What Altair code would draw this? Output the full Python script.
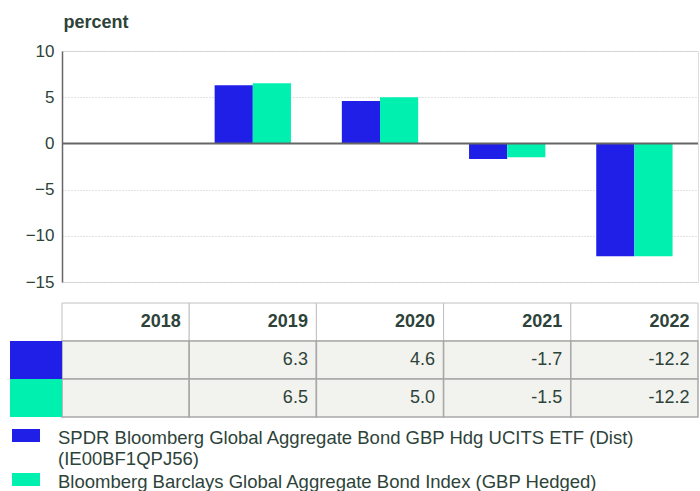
import altair as alt
import pandas as pd

# ---------------- data ----------------
years = ["2018", "2019", "2020", "2021", "2022"]
series_keys = ["SPDR", "Index"]
series_labels = [
    "SPDR Bloomberg Global Aggregate Bond GBP Hdg UCITS ETF (Dist)\n(IE00BF1QPJ56)",
    "Bloomberg Barclays Global Aggregate Bond Index (GBP Hedged)",
]
spdr_values = [None, 6.3, 4.6, -1.7, -12.2]
index_values = [None, 6.5, 5.0, -1.5, -12.2]
series_colors = ["#1F1FE8", "#00F0B0"]
y_ticks = [-15, -10, -5, 0, 5, 10]

# ---------------- tables built from the arrays ----------------
bar_rows = []
for key, vals in zip(series_keys, [spdr_values, index_values]):
    for yr, v in zip(years, vals):
        if v is not None:
            bar_rows.append({"year": yr, "series": key, "value": v})
bars_df = pd.DataFrame(bar_rows)

cell_rows = []
for yr in years:
    cell_rows.append({"year": yr, "row": "header", "kind": "header", "label": yr})
for key, vals in zip(series_keys, [spdr_values, index_values]):
    for yr, v in zip(years, vals):
        cell_rows.append({"year": yr, "row": key, "kind": "data",
                          "label": "" if v is None else f"{v:.1f}"})
cells_df = pd.DataFrame(cell_rows)

legend_df = pd.DataFrame({"series": series_keys, "label": series_labels})
zero_df = pd.DataFrame({"z": [0]})

FONT = "Liberation Sans"
TXT = "#2d4339"
W, H = 636, 231
BAND = W / len(years)
row_domain = ["header"] + series_keys

color_scale = alt.Scale(domain=series_keys, range=series_colors)


def x_tab():
    return alt.X("year:N", scale=alt.Scale(domain=years, paddingInner=0, paddingOuter=0), axis=None)


def y_tab(field="row:N"):
    return alt.Y(field, scale=alt.Scale(domain=row_domain, range=[252, 366], paddingInner=0, paddingOuter=0), axis=None)


# ---------------- bars ----------------
bars = alt.Chart(bars_df).mark_bar().encode(
    x=alt.X("year:N", scale=alt.Scale(domain=years, paddingInner=0.4, paddingOuter=0.2), axis=None),
    xOffset=alt.XOffset("series:N", scale=alt.Scale(domain=series_keys, paddingInner=0, paddingOuter=0)),
    y=alt.Y("value:Q", scale=alt.Scale(domain=[-15, 10], nice=False, zero=False),
            axis=alt.Axis(values=y_ticks, title="percent", titleAngle=0, titleX=1, titleY=-24,
                          titleAlign="left", titleBaseline="alphabetic", titleFont=FONT,
                          titleFontSize=18, titleFontWeight="bold", titleColor=TXT,
                          labelFont=FONT, labelFontSize=17, labelColor=TXT, labelPadding=8,
                          ticks=False, tickSize=0, domainColor="#666666", domainWidth=1.5,
                          gridColor="#c4c4c4", gridDash=[1, 2], gridWidth=1)),
    color=alt.Color("series:N", scale=color_scale, legend=None),
)

zero_rule = alt.Chart(zero_df).mark_rule(color="#666666", strokeWidth=2).encode(
    y=alt.Y("z:Q", scale=alt.Scale(domain=[-15, 10], nice=False, zero=False), axis=None)
)

# ---------------- table ----------------
header_cells = alt.Chart(cells_df).transform_filter("datum.kind == 'header'").mark_rect(
    fill="#ffffff", stroke="#c0c0c0", strokeWidth=1
).encode(x=x_tab(), y=y_tab())

data_cells = alt.Chart(cells_df).transform_filter("datum.kind == 'data'").mark_rect(
    fill="#f2f2ee", stroke="#a8a8a8", strokeWidth=1.5
).encode(x=x_tab(), y=y_tab())

header_text = alt.Chart(cells_df).transform_filter("datum.kind == 'header'").mark_text(
    align="right", baseline="middle", dx=BAND / 2 - 8.5, font=FONT, fontSize=18, fontWeight="bold", color=TXT
).encode(x=x_tab(), y=y_tab(), text="label:N")

data_text = alt.Chart(cells_df).transform_filter("datum.kind == 'data'").mark_text(
    align="right", baseline="middle", dx=BAND / 2 - 8.5, font=FONT, fontSize=18, color=TXT
).encode(x=x_tab(), y=y_tab(), text="label:N")

swatch_col = alt.Chart(legend_df).mark_rect().encode(
    x=alt.value(-52), x2=alt.value(0),
    y=y_tab("series:N"),
    color=alt.Color("series:N", scale=color_scale, legend=None),
)

# ---------------- legend ----------------
leg_y = alt.Y("series:N", scale=alt.Scale(type="point", domain=series_keys, range=[378, 422], padding=0), axis=None)
leg_sw = alt.Chart(legend_df).mark_point(
    shape="M-1,0H1V0.93H-1Z", size=784, filled=True, opacity=1, strokeWidth=0
).encode(x=alt.value(-36), y=leg_y, color=alt.Color("series:N", scale=color_scale, legend=None))

leg_txt = alt.Chart(legend_df).mark_text(
    align="left", baseline="top", lineBreak="\n", lineHeight=21, font=FONT, fontSize=18.5, color=TXT
).encode(x=alt.value(-4), y=leg_y, text="label:N")

chart = alt.layer(
    bars, zero_rule, header_cells, data_cells, header_text, data_text, swatch_col, leg_sw, leg_txt
).resolve_scale(x="independent", y="independent").properties(
    width=W, height=H,
    autosize=alt.AutoSizeParams(type="none"),
    padding={"left": 62, "top": 51, "right": 2, "bottom": 209},
).configure_view(strokeWidth=0).configure(background="#ffffff")

chart.save("out.html", embed_options={"renderer": "svg", "actions": False})
